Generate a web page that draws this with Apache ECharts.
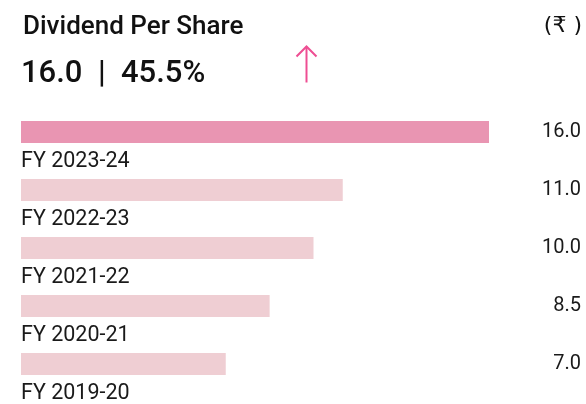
<!DOCTYPE html>
<html>
<head>
<meta charset="utf-8">
<style>
  html, body { margin: 0; padding: 0; background: #ffffff; }
  #chart { width: 586px; height: 404px; }
</style>
<script src="https://cdn.jsdelivr.net/npm/echarts@6/dist/echarts.min.js"></script>
</head>
<body>
<div id="chart"></div>
<script>
const categories = ['FY 2023-24', 'FY 2022-23', 'FY 2021-22', 'FY 2020-21', 'FY 2019-20'];
const dividendValues = [16.0, 11.0, 10.0, 8.5, 7.0];
const headlineValue = '16.0';
const headlineGrowth = '45.5%';
const unitLabel = '(₹ )';
const titleText = 'Dividend Per Share';

const highlightColor = '#E995B2';
const baseColor = '#EFCED3';

const chart = echarts.init(document.getElementById('chart'), null, { renderer: 'canvas' });

const option = {
  backgroundColor: '#ffffff',
  animation: false,
  textStyle: { fontFamily: 'Roboto, "Noto Sans", sans-serif' },
  title: [
    {
      text: titleText,
      left: 23, top: 14, padding: 0,
      textStyle: { fontSize: 26, fontWeight: 500, color: '#111111', fontFamily: 'Roboto' }
    },
    {
      text: headlineValue + '  |  ' + headlineGrowth,
      left: 21, top: 59, padding: 0,
      textStyle: { fontSize: 31, fontWeight: 500, color: '#111111', fontFamily: 'Roboto' }
    },
    {
      text: unitLabel,
      right: 4, top: 15, padding: 0,
      textStyle: { fontSize: 22, fontWeight: 400, color: '#111111', fontFamily: '"DejaVu Sans", "Noto Sans"' }
    }
  ],
  graphic: [
    {
      type: 'group',
      left: 294, top: 44,
      children: [
        { type: 'line', shape: { x1: 10, y1: 1, x2: 10, y2: 37 }, style: { stroke: '#EE4E93', lineWidth: 2 } },
        { type: 'polyline', shape: { points: [[0, 11], [10, 1], [20, 11]] }, style: { stroke: '#EE4E93', lineWidth: 2, fill: null } }
      ]
    }
  ],
  grid: { left: 21, right: 97, top: 103, height: 290 },
  xAxis: {
    type: 'value', min: 0, max: 16, show: false
  },
  yAxis: [
    {
      type: 'category', inverse: true, data: categories, position: 'left',
      axisLine: { show: false }, axisTick: { show: false }, splitLine: { show: false },
      axisLabel: { show: false }
    },
    {
      type: 'category', inverse: true, position: 'right',
      data: dividendValues.map(v => v.toFixed(1)),
      axisLine: { show: false }, axisTick: { show: false }, splitLine: { show: false },
      axisLabel: {
        interval: 0,
        margin: 92, align: 'right',
        fontSize: 20, color: '#1a1a1a', fontFamily: 'Roboto'
      }
    }
  ],
  series: [
    {
      type: 'bar',
      yAxisIndex: 0,
      barWidth: 22,
      label: {
        show: true,
        position: [0, '100%'],
        offset: [0, 8],
        align: 'left',
        verticalAlign: 'top',
        fontSize: 21.5,
        color: '#1a1a1a',
        fontFamily: 'Roboto',
        formatter: p => categories[p.dataIndex]
      },
      data: dividendValues.map((v, i) => ({
        value: v,
        itemStyle: { color: i === 0 ? highlightColor : baseColor }
      }))
    }
  ]
};

chart.setOption(option);
</script>
</body>
</html>
